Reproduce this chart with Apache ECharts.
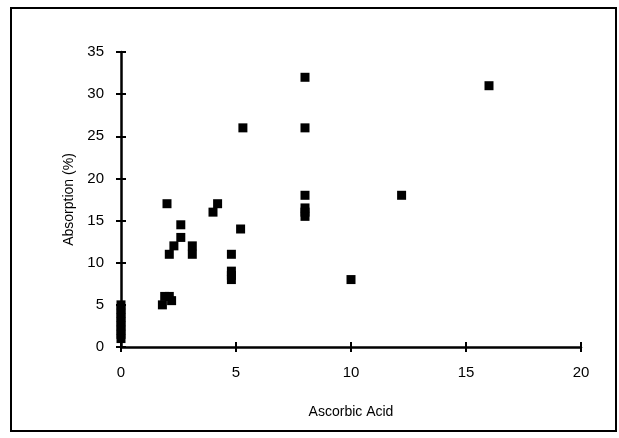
<!DOCTYPE html>
<html>
<head>
<meta charset="utf-8">
<title>Absorption vs Ascorbic Acid</title>
<script src="https://cdn.jsdelivr.net/npm/echarts@6/dist/echarts.min.js"></script>
<style>
html, body { margin: 0; padding: 0; background: #fff; }
#main { width: 619px; height: 438px; }
</style>
</head>
<body>
<div id="main"></div>
<script>
// ascorbic acid (x) and absorption % (y)
var ascorbic = [0, 0, 0, 0, 0, 0, 0, 0, 0,
                1.8, 1.9, 2.1, 2.2, 2.0, 2.1, 2.3, 2.6, 2.6, 3.1, 3.1,
                4.0, 4.2, 4.8, 4.8, 4.8, 4.8, 5.2, 5.3,
                8, 8, 8, 8, 8, 8, 10, 12.2, 16];
var absorption = [1, 1.5, 2, 2.5, 3, 3.5, 4, 4.5, 5,
                  5, 6, 6, 5.5, 17, 11, 12, 14.5, 13, 12, 11,
                  16, 17, 11, 9, 8.5, 8, 14, 26,
                  32, 26, 18, 16.5, 16, 15.5, 8, 18, 31];
var xTicks = [0, 5, 10, 15, 20];
var yTicks = [0, 5, 10, 15, 20, 25, 30, 35];

var points = [];
for (var i = 0; i < ascorbic.length; i++) {
  points.push([ascorbic[i], absorption[i]]);
}

var chart = echarts.init(document.getElementById('main'));
var font = 'Liberation Sans';

// main axes: line + labels, no ticks
// tick axes: no line, ticks shifted inwards so they cross the line
var option = {
  animation: false,
  backgroundColor: '#fff',
  grid: { left: 121, right: 38, top: 52, bottom: 91 },
  graphic: [{
    type: 'rect',
    shape: { x: 11, y: 8, width: 605, height: 423 },
    style: { fill: 'none', stroke: '#000', lineWidth: 2 }
  }],
  xAxis: [{
    type: 'value', min: xTicks[0], max: xTicks[xTicks.length - 1], interval: 5,
    position: 'bottom', splitLine: { show: false },
    axisLine: { show: true, onZero: false, lineStyle: { color: '#000', width: 2.5 } },
    axisTick: { show: false },
    name: 'Ascorbic Acid', nameLocation: 'middle', nameGap: 58,
    nameTextStyle: { color: '#000', fontSize: 14, fontFamily: font },
    axisLabel: { color: '#000', fontSize: 15, fontFamily: font, margin: 18 }
  }, {
    type: 'value', min: xTicks[0], max: xTicks[xTicks.length - 1], interval: 5,
    position: 'bottom', offset: -5, splitLine: { show: false },
    axisLine: { show: false, onZero: false },
    axisTick: { show: true, length: 10, lineStyle: { color: '#000', width: 2 } },
    axisLabel: { show: false }
  }],
  yAxis: [{
    type: 'value', min: yTicks[0], max: yTicks[yTicks.length - 1], interval: 5,
    position: 'left', splitLine: { show: false },
    axisLine: { show: true, onZero: false, lineStyle: { color: '#000', width: 2.5 } },
    axisTick: { show: false },
    name: 'Absorption (%)', nameLocation: 'middle', nameGap: 45,
    nameTextStyle: { color: '#000', fontSize: 14, fontFamily: font },
    axisLabel: { color: '#000', fontSize: 15, fontFamily: font, margin: 17 }
  }, {
    type: 'value', min: yTicks[0], max: yTicks[yTicks.length - 1], interval: 5,
    position: 'left', offset: -5, splitLine: { show: false },
    axisLine: { show: false, onZero: false },
    axisTick: { show: true, length: 10, lineStyle: { color: '#000', width: 2 } },
    axisLabel: { show: false }
  }],
  series: [{
    type: 'scatter',
    xAxisIndex: 0, yAxisIndex: 0,
    symbol: 'rect',
    symbolSize: 9,
    itemStyle: { color: '#000', opacity: 1 },
    data: points
  }]
};
chart.setOption(option);
</script>
</body>
</html>
